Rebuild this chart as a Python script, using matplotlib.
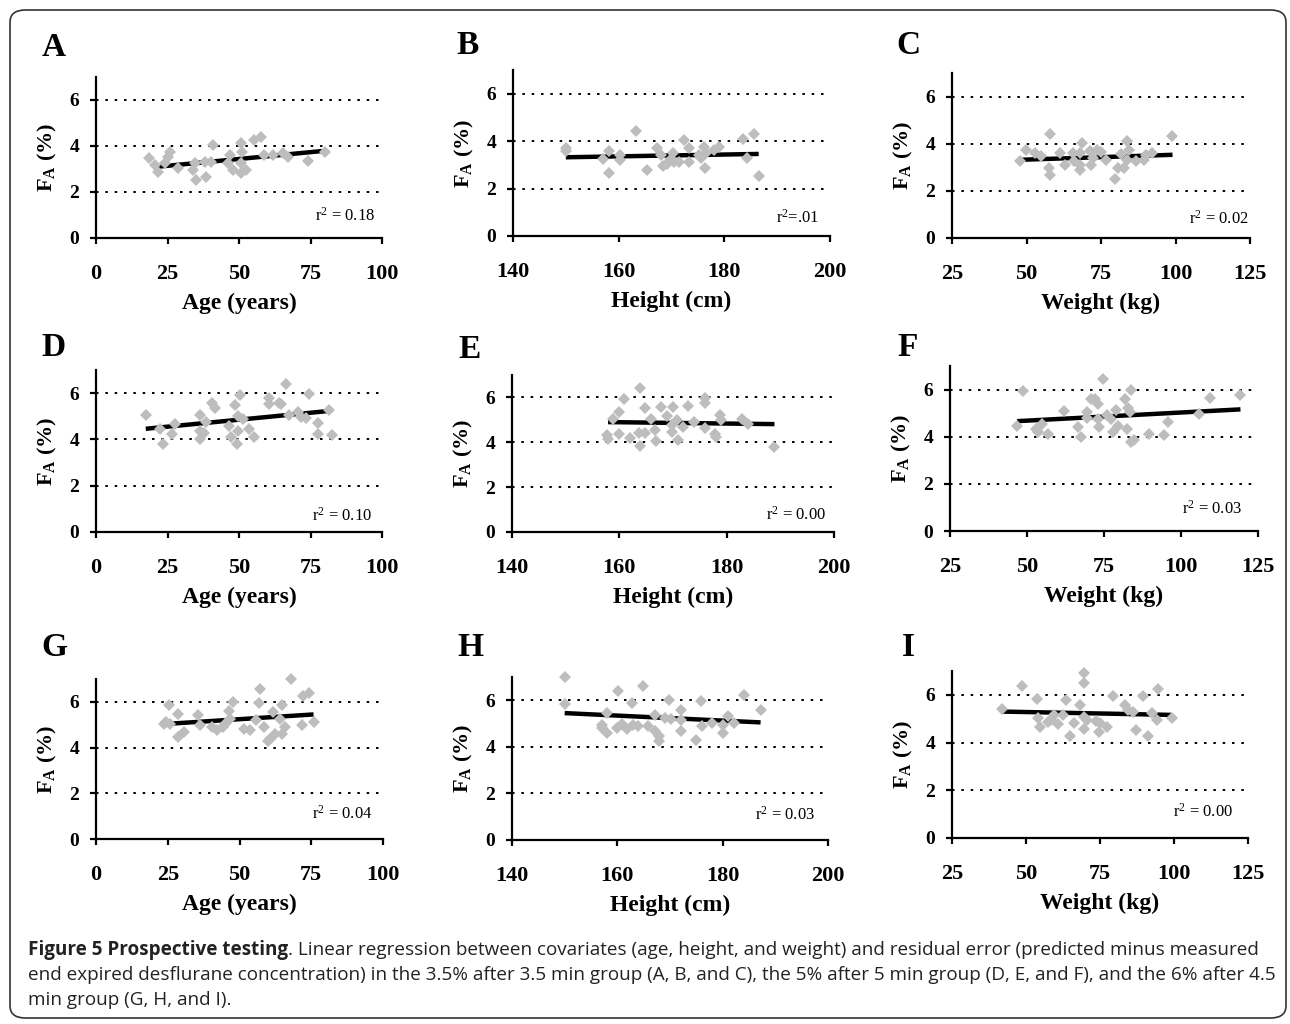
import matplotlib
matplotlib.use("Agg")
import matplotlib.pyplot as plt
from matplotlib.patches import FancyBboxPatch

plt.rcParams["font.family"] = "Liberation Serif"
plt.rcParams["mathtext.fontset"] = "custom"
plt.rcParams["mathtext.rm"] = "Liberation Serif"
plt.rcParams["mathtext.it"] = "Liberation Serif:italic"
plt.rcParams["mathtext.bf"] = "Liberation Serif:bold"

# Dados (covariável, FA em %)
age_A = [18.7, 20.5, 21.6, 24.0, 25.2, 25.7, 28.6, 33.9, 34.5, 34.8, 38.0, 38.5, 40.3, 40.9, 46.1,
         46.7, 47.8, 50.8, 50.8, 50.8, 51.1, 52.5, 55.4, 57.7, 58.9, 61.8, 65.3, 67.1, 74.0, 79.9]
fa_A = [3.46, 3.17, 2.88, 3.25, 3.54, 3.75, 3.03, 2.96, 3.25, 2.52, 3.29, 2.67, 3.29, 4.04, 3.25,
        3.61, 2.96, 3.25, 2.81, 4.12, 3.75, 2.96, 4.26, 4.41, 3.61, 3.61, 3.68, 3.54, 3.35, 3.75]
fit_A = ([20, 79], [3.08, 3.78])

height_B = [150.0, 150.0, 157.1, 158.1, 158.1, 160.2, 160.2, 163.2, 165.3, 167.2, 168.1, 168.3, 169.2,
            169.8, 170.2, 170.5, 171.4, 172.3, 173.3, 173.3, 175.2, 175.6, 176.2, 176.3, 176.5, 178.1,
            179.0, 183.5, 184.3, 185.6, 186.5]
fa_B = [3.73, 3.59, 3.25, 3.59, 2.65, 3.42, 3.21, 4.44, 2.79, 3.70, 3.42, 2.97, 3.03, 3.21, 3.49,
        3.14, 3.11, 4.04, 3.70, 3.14, 3.42, 3.28, 3.77, 2.86, 3.49, 3.63, 3.77, 4.10, 3.28, 4.30, 2.51]
fit_B = ([150, 186.5], [3.32, 3.46])

weight_C = [47.8, 49.7, 52.8, 54.8, 57.8, 57.4, 57.8, 61.4, 62.8, 65.6, 66.1, 67.8, 67.8, 68.1, 68.6,
            71.4, 71.7, 72.2, 73.7, 75.0, 76.7, 80.6, 79.7, 81.7, 82.8, 83.7, 84.5, 83.7, 86.7, 89.5,
            90.1, 92.0, 98.9]
fa_C = [3.25, 3.74, 3.60, 3.50, 4.41, 2.96, 2.68, 3.60, 3.11, 3.60, 3.25, 3.60, 3.11, 2.89, 4.03,
        3.70, 3.11, 3.39, 3.74, 3.65, 3.32, 2.99, 2.51, 3.56, 2.96, 4.10, 3.74, 3.32, 3.25, 3.32,
        3.53, 3.60, 4.31]
fit_C = ([48.5, 99], [3.32, 3.53])

age_D = [17.4, 22.3, 23.5, 26.4, 27.6, 36.3, 36.5, 36.3, 37.7, 38.6, 40.4, 41.5, 46.5, 47.3, 48.5,
         49.3, 49.7, 49.7, 50.5, 51.4, 53.5, 55.1, 60.5, 60.5, 64.0, 64.8, 66.6, 67.4, 70.6, 71.7,
         73.5, 74.4, 77.6, 77.6, 81.6, 82.6]
fa_D = [5.05, 4.43, 3.81, 4.25, 4.65, 5.05, 4.36, 4.00, 4.29, 4.76, 5.59, 5.37, 4.58, 4.10, 5.49,
        3.81, 4.36, 5.01, 5.92, 4.87, 4.43, 4.10, 5.80, 5.54, 5.59, 5.52, 6.41, 5.05, 5.20, 4.97,
        4.91, 5.98, 4.72, 4.25, 5.26, 4.17]
fit_D = ([17.4, 81.4], [4.46, 5.23])

height_E = [157.7, 157.9, 158.8, 159.9, 159.9, 160.8, 161.9, 163.7, 163.9, 163.9, 164.8, 164.8, 165.9,
            166.7, 166.8, 167.8, 168.9, 169.8, 169.8, 170.0, 170.8, 170.9, 171.9, 172.8, 173.9, 175.9,
            175.9, 175.9, 177.8, 178.0, 178.8, 179.0, 182.9, 184.0, 188.9]
fa_E = [4.31, 4.13, 5.05, 5.35, 4.39, 5.94, 4.19, 4.41, 3.82, 6.41, 4.41, 5.53, 5.02, 4.53, 4.04,
        5.57, 5.17, 4.46, 4.79, 5.57, 4.98, 4.09, 4.68, 5.61, 4.90, 5.97, 5.76, 4.64, 4.36, 4.24,
        5.23, 4.98, 5.05, 4.83, 3.79]
fit_E = ([157.9, 188.9], [4.90, 4.81])

weight_F = [46.8, 48.8, 52.8, 53.6, 55.0, 56.8, 61.9, 66.7, 67.5, 69.5, 69.5, 70.8, 72.1, 73.2, 73.0,
            73.5, 74.6, 76.0, 77.3, 77.9, 79.0, 79.5, 81.7, 82.6, 82.8, 83.3, 83.7, 83.9, 84.8, 89.6,
            94.6, 95.7, 105.7, 109.5, 119.3]
fa_F = [4.44, 5.92, 4.34, 4.20, 4.55, 4.13, 5.07, 4.41, 3.99, 5.05, 4.79, 5.58, 5.61, 5.40, 4.76,
        4.41, 6.43, 4.91, 4.76, 4.20, 5.12, 4.45, 5.61, 4.34, 5.22, 5.05, 5.97, 3.77, 3.84, 4.10,
        4.08, 4.62, 4.98, 5.64, 5.78]
fit_F = ([46.8, 119.3], [4.66, 5.16])

age_G = [23.7, 24.4, 25.6, 25.8, 28.4, 28.4, 30.7, 35.7, 36.3, 40.3, 42.3, 44.4, 45.0, 46.5, 46.7,
         47.7, 51.6, 53.7, 55.7, 56.9, 57.0, 58.4, 59.8, 60.7, 61.6, 62.4, 64.0, 64.8, 64.8, 65.9,
         67.9, 71.7, 72.1, 74.1, 76.0]
fa_G = [5.05, 5.12, 5.85, 5.05, 5.46, 4.47, 4.69, 5.42, 4.98, 4.88, 4.76, 4.88, 5.05, 5.61, 5.27,
        6.00, 4.83, 4.79, 5.20, 5.97, 6.55, 4.88, 4.29, 4.39, 5.56, 4.61, 5.23, 5.85, 4.58, 4.91,
        6.98, 4.98, 6.25, 6.39, 5.12]
fit_G = ([26.4, 75.8], [5.05, 5.45])

height_H = [150.0, 150.0, 157.0, 157.1, 158.0, 158.0, 160.0, 160.1, 160.9, 161.8, 162.8, 162.9, 163.9,
            164.8, 165.9, 167.1, 167.2, 168.0, 168.0, 169.1, 169.9, 170.1, 172.0, 172.0, 172.0, 175.0,
            175.9, 176.1, 178.0, 180.0, 180.0, 181.0, 182.1, 184.0, 187.2]
fa_H = [7.00, 5.86, 4.95, 4.81, 5.45, 4.59, 4.81, 6.39, 4.99, 4.76, 5.88, 4.95, 4.88, 6.60, 4.91,
        5.38, 4.66, 4.45, 4.27, 5.24, 6.00, 5.19, 5.60, 5.14, 4.66, 4.30, 5.99, 4.91, 5.02, 4.95,
        4.59, 5.31, 5.02, 6.24, 5.60]
fit_H = ([150, 187.2], [5.45, 5.05])

weight_I = [41.8, 48.8, 53.8, 54.1, 54.7, 57.4, 58.5, 59.6, 60.7, 62.5, 63.6, 64.8, 66.3, 68.4, 69.5,
            69.5, 69.5, 69.7, 70.6, 73.7, 74.5, 75.1, 77.3, 79.5, 83.5, 84.6, 86.2, 87.3, 89.4, 91.3,
            92.4, 94.3, 94.6, 99.4]
fa_I = [5.41, 6.37, 5.81, 5.02, 4.64, 4.88, 4.95, 5.16, 4.77, 5.16, 5.79, 4.28, 4.84, 5.58, 6.51,
        6.93, 5.09, 4.56, 4.95, 4.92, 4.46, 4.81, 4.64, 5.95, 5.58, 5.37, 5.30, 4.53, 5.95, 4.28,
        5.23, 4.95, 6.23, 5.02]
fit_I = ([41.8, 99.1], [5.30, 5.16])

r2_labels = ["0.18", ".01", "0.02", "0.10", "0.00", "0.03", "0.04", "0.03", "0.00"]

# Eixos por covariável
eixos = {
    "age": ((0, 100), [0, 25, 50, 75, 100], "Age (years)"),
    "height": ((140, 200), [140, 160, 180, 200], "Height (cm)"),
    "weight": ((25, 125), [25, 50, 75, 100, 125], "Weight (kg)"),
}

# (letra, tipo, x, y, ajuste, caixa em px: esq, dir, topo, base, posição r2, posição da letra)
paineis = [
    ("A", "age", age_A, fa_A, fit_A, (96, 382, 77, 238), (97.5, 0.95), (54, 47)),
    ("B", "height", height_B, fa_B, fit_B, (513, 830, 70, 236), (198, 0.75), (468, 45)),
    ("C", "weight", weight_C, fa_C, fit_C, (952, 1250, 73, 238), (124.5, 0.8), (908, 45)),
    ("D", "age", age_D, fa_D, fit_D, (96, 382, 370, 532), (96.5, 0.72), (54, 347)),
    ("E", "height", height_E, fa_E, fit_E, (512, 834, 375, 532), (198.5, 0.75), (470, 350)),
    ("F", "weight", weight_F, fa_F, fit_F, (950, 1258, 366, 531), (119.8, 0.95), (908, 348)),
    ("G", "age", age_G, fa_G, fit_G, (96, 383, 679, 839), (96.5, 1.1), (54, 648)),
    ("H", "height", height_H, fa_H, fit_H, (512, 828, 677, 840), (197.5, 1.1), (470, 648)),
    ("I", "weight", weight_I, fa_I, fit_I, (952, 1248, 671, 838), (120, 1.1), (908, 648)),
]

W, H = 1290, 1024
fig = plt.figure(figsize=(W / 100, H / 100), dpi=100)

fig.patches.append(FancyBboxPatch((10 / W, 6 / H), 1276 / W, 1008 / H,
                                  boxstyle="round,pad=0,rounding_size=0.012",
                                  transform=fig.transFigure, fill=False,
                                  edgecolor="#333333", linewidth=1.2))

for (letra, tipo, xs, ys, fit, box, r2pos, lpos), r2 in zip(paineis, r2_labels):
    esq, dir_, topo, base = box
    ax = fig.add_axes([esq / W, 1 - base / H, (dir_ - esq) / W, (base - topo) / H])
    lim, ticks, rotulo = eixos[tipo]
    ax.set_xlim(*lim)
    ax.set_ylim(0, 7)
    ax.set_xticks(ticks)
    ax.set_yticks([0, 2, 4, 6])
    for s in ["top", "right"]:
        ax.spines[s].set_visible(False)
    for s in ["left", "bottom"]:
        ax.spines[s].set_linewidth(1.6)
    ax.tick_params(axis="both", direction="out", length=4, width=1.6)
    ax.tick_params(axis="x", pad=15, labelsize=16)
    ax.tick_params(axis="y", pad=8, labelsize=14)
    for lab in ax.get_xticklabels() + ax.get_yticklabels():
        lab.set_fontweight("bold")
    for g in [2, 4, 6]:
        ax.axhline(g, color="black", linestyle=(0, (1.3, 3.5)), linewidth=1.4, zorder=1)
    ax.plot(fit[0], fit[1], color="black", linewidth=3.2, solid_capstyle="butt", zorder=2)
    ax.plot(xs, ys, linestyle="none", marker="D", markersize=6.3, color="#BDBDBD",
            markeredgewidth=0, zorder=3, clip_on=False)
    if r2 == ".01":
        txt = r"r$^{2}$=.01"
    else:
        txt = r"r$^{2}$ = " + r2
    ax.text(r2pos[0], r2pos[1], txt, ha="right", va="center", fontsize=12)
    ax.set_xlabel(rotulo, fontsize=17, fontweight="bold", va="center")
    ax.xaxis.set_label_coords(0.5, -65 / (base - topo))
    ax.set_ylabel(r"F$_{\mathbf{A}}$ (%)", fontsize=16, fontweight="bold", va="center")
    ax.yaxis.set_label_coords(-49 / (dir_ - esq), 0.5)
    fig.text(lpos[0] / W, 1 - lpos[1] / H, letra, fontsize=24, fontweight="bold",
             ha="center", va="center")

# Legenda da figura
cap_font = "Open Sans"
cap_size = 13.6
x0 = 28 / W
negrito = fig.text(x0, 1 - 950 / H, "Figure 5 Prospective testing", fontsize=cap_size,
                   fontweight="bold", family=cap_font, va="center", color="#222222")
renderer = fig.canvas.get_renderer()
bb = negrito.get_window_extent(renderer)
fig.text(bb.x1 / W, 1 - 950 / H,
         ". Linear regression between covariates (age, height, and weight) and residual error "
         "(predicted minus measured", fontsize=cap_size, family=cap_font, va="center", color="#222222")
fig.text(x0, 1 - 975 / H,
         "end expired desflurane concentration) in the 3.5% after 3.5 min group (A, B, and C), "
         "the 5% after 5 min group (D, E, and F), and the 6% after 4.5",
         fontsize=cap_size, family=cap_font, va="center", color="#222222")
fig.text(x0, 1 - 1000 / H, "min group (G, H, and I).", fontsize=cap_size, family=cap_font,
         va="center", color="#222222")

fig.savefig("out.png", dpi=100)
